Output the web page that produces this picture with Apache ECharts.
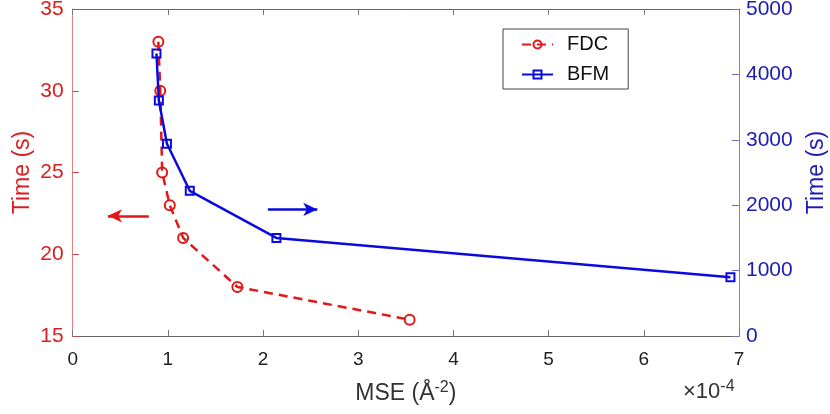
<!DOCTYPE html>
<html>
<head>
<meta charset="utf-8">
<script src="https://cdn.jsdelivr.net/npm/echarts@6/dist/echarts.min.js"></script>
<style>
html,body{margin:0;padding:0;background:#fff;}
#chart{width:830px;height:414px;}
</style>
</head>
<body>
<div id="chart"></div>
<script>
// MSE values in units of 1e-4 (the axis shows ×10^-4)
var fdcMSE = [0.90, 0.92, 0.94, 1.02, 1.16, 1.73, 3.54];
var fdcTime = [33, 30, 25, 23, 21, 18, 16];
var bfmMSE = [0.88, 0.905, 0.99, 1.23, 2.14, 6.91];
var bfmTime = [4320, 3600, 2940, 2220, 1500, 900];
var xTicks = [0, 1, 2, 3, 4, 5, 6, 7];
var leftTicks = [15, 20, 25, 30, 35];
var rightTicks = [0, 1000, 2000, 3000, 4000, 5000];
// annotation arrows (data coordinates)
var redArrow = [[0.80, 22.35], [0.37, 22.35]];
var blueArrow = [[2.05, 1935], [2.57, 1935]];

var RED = '#e01818', REDTXT = '#d81e1e', BLUE = '#0a0ae0', BLUETXT = '#1c1cb4';
var FONT = 'Liberation Sans';

function zip(a, b) { return a.map(function (v, i) { return [v, b[i]]; }); }

var chart = echarts.init(document.getElementById('chart'), null, {renderer: 'canvas'});
var option = {
  backgroundColor: '#fff',
  animation: false,
  textStyle: {fontFamily: FONT},
  grid: {left: 72.7, right: 91, top: 9, bottom: 78, containLabel: false, outerBoundsMode: 'none'},
  legend: {
    left: 503, top: 29, orient: 'vertical',
    itemWidth: 31, itemHeight: 10, itemGap: 9,
    padding: [5, 19, 4, 18],
    borderColor: '#444', borderWidth: 1, backgroundColor: '#fff',
    textStyle: {fontSize: 20, lineHeight: 21, color: '#111', fontFamily: FONT, padding: [0, 0, 0, 9]},
    data: ['FDC', 'BFM']
  },
  xAxis: [{
    type: 'value', min: xTicks[0], max: xTicks[xTicks.length - 1], interval: 1,
    position: 'bottom',
    name: 'MSE (Å{sup|-2})', nameLocation: 'middle', nameGap: 44, nameMoveOverlap: false,
    nameTextStyle: {fontSize: 23, color: '#333', fontFamily: FONT,
      rich: {sup: {fontSize: 16, verticalAlign: 'top', padding: [0, 0, 11, 0], color: '#333'}}},
    axisLine: {show: true, onZero: false, lineStyle: {color: '#666', width: 1}},
    axisTick: {show: true, inside: true, length: 6, lineStyle: {color: '#777'}},
    axisLabel: {fontSize: 19, color: '#222', margin: 14, fontFamily: FONT},
    splitLine: {show: false}
  }, {
    type: 'value', min: 0, max: 7, interval: 1, position: 'top',
    axisLine: {show: true, onZero: false, lineStyle: {color: '#666', width: 1}},
    axisTick: {show: true, inside: true, length: 6, lineStyle: {color: '#777'}},
    axisLabel: {show: false}, splitLine: {show: false}
  }],
  yAxis: [{
    type: 'value', min: leftTicks[0], max: leftTicks[leftTicks.length - 1], interval: 5,
    position: 'left',
    name: 'Time (s)', nameLocation: 'middle', nameGap: 39, nameMoveOverlap: false,
    nameTextStyle: {fontSize: 23, color: REDTXT, fontFamily: FONT},
    axisLine: {show: true, onZero: false, lineStyle: {color: '#e08080', width: 1}},
    axisTick: {show: true, inside: true, length: 6, lineStyle: {color: '#d04040'}},
    axisLabel: {fontSize: 21, color: REDTXT, margin: 9, fontFamily: FONT},
    splitLine: {show: false}
  }, {
    type: 'value', min: rightTicks[0], max: rightTicks[rightTicks.length - 1], interval: 1000,
    position: 'right',
    name: 'Time (s)', nameLocation: 'middle', nameGap: 66, nameMoveOverlap: false,
    nameTextStyle: {fontSize: 23, color: BLUETXT, fontFamily: FONT},
    axisLine: {show: true, onZero: false, lineStyle: {color: '#8080c8', width: 1}},
    axisTick: {show: true, inside: true, length: 7, lineStyle: {color: '#7070b0'}},
    axisLabel: {fontSize: 21, color: BLUETXT, margin: 7, fontFamily: FONT,
      formatter: function (v) { return String(v); }},
    splitLine: {show: false}
  }],
  graphic: [{
    type: 'text', left: 683, top: 379,
    style: {
      text: '×10{sup|-4}',
      font: '22px "Liberation Sans"', fill: '#333',
      rich: {sup: {fontSize: 16, fill: '#333', verticalAlign: 'top', padding: [0, 0, 10, 0]}}
    }
  }],
  series: [{
    name: 'FDC', type: 'line', xAxisIndex: 0, yAxisIndex: 0,
    data: zip(fdcMSE, fdcTime),
    symbol: 'circle', symbolSize: 10, showAllSymbol: true,
    lineStyle: {color: RED, width: 2.5, type: [9, 6]},
    itemStyle: {color: 'rgba(255,255,255,0)', borderColor: RED, borderWidth: 2},
    markLine: {
      silent: true, symbol: ['none', 'arrow'], symbolSize: [10, 14],
      label: {show: false},
      lineStyle: {color: RED, width: 2.5, type: 'solid'},
      data: [[{coord: redArrow[0]}, {coord: redArrow[1]}]]
    },
    z: 3
  }, {
    name: 'BFM', type: 'line', xAxisIndex: 0, yAxisIndex: 1,
    data: zip(bfmMSE, bfmTime),
    symbol: 'rect', symbolSize: 8, showAllSymbol: true,
    lineStyle: {color: BLUE, width: 2.5, type: 'solid'},
    itemStyle: {color: 'rgba(255,255,255,0)', borderColor: BLUE, borderWidth: 2},
    markLine: {
      silent: true, symbol: ['none', 'arrow'], symbolSize: [10, 14],
      label: {show: false},
      lineStyle: {color: BLUE, width: 2.5, type: 'solid'},
      data: [[{coord: blueArrow[0]}, {coord: blueArrow[1]}]]
    },
    z: 4
  }]
};
chart.setOption(option);
</script>
</body>
</html>
